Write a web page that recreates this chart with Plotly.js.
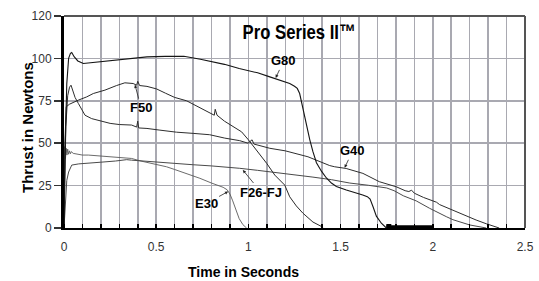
<!DOCTYPE html>
<html>
<head>
<meta charset="utf-8">
<script src="https://cdn.plot.ly/plotly-3.0.1.min.js"></script>
<style>html,body{margin:0;padding:0;background:#fff;}#chart{width:539px;height:281px;}</style>
</head>
<body>
<div id="chart"></div>
<script>
// ---- data (time in s, thrust in N) ----
const g80T = [0, 0.005, 0.015, 0.025, 0.035, 0.042, 0.055, 0.075, 0.105, 0.15, 0.25, 0.35, 0.45, 0.55, 0.65, 0.74, 0.79, 0.87, 0.95, 1.05, 1.116, 1.15, 1.224, 1.25, 1.265, 1.278, 1.29, 1.311, 1.333, 1.35, 1.369, 1.396, 1.423, 1.45, 1.477, 1.531, 1.58, 1.62, 1.645, 1.66, 1.676, 1.694, 1.721, 1.74, 1.748];
const g80V = [0, 40, 85, 100, 103, 103.5, 101, 98.5, 97, 97.5, 98.5, 100, 100.9, 101.2, 101.3, 99.5, 98.5, 96.5, 94, 91.5, 89.1, 88, 85.2, 83.6, 82.3, 79.3, 73, 64, 52, 45, 38.5, 33.5, 29.5, 26.5, 24.5, 22.4, 21, 19.5, 18.5, 17, 12.5, 7, 2.8, 0.4, 0];

const f50T = [0, 0.005, 0.012, 0.03, 0.078, 0.123, 0.159, 0.222, 0.285, 0.33, 0.375, 0.394, 0.40, 0.41, 0.45, 0.502, 0.55, 0.60, 0.665, 0.70, 0.75, 0.80, 0.815, 0.82, 0.83, 0.87, 0.917, 0.963, 1.0, 1.053, 1.1, 1.143, 1.197, 1.224, 1.26, 1.296, 1.35, 1.405];
const f50V = [0, 50, 71.5, 73, 75.4, 77.3, 79.3, 81.3, 84, 85.6, 85.2, 84.2, 86.5, 84, 83.5, 82, 79.5, 77, 75, 73, 70.5, 67.5, 66.5, 70, 66.5, 63, 60, 56.7, 52, 44.9, 38, 31.2, 25.3, 18.4, 13, 8.7, 3.5, 0.4];

const g40T = [0, 0.01, 0.02, 0.03, 0.038, 0.045, 0.06, 0.078, 0.105, 0.114, 0.15, 0.222, 0.25, 0.30, 0.367, 0.394, 0.40, 0.405, 0.45, 0.52, 0.61, 0.70, 0.79, 0.872, 0.953, 0.998, 1.02, 1.03, 1.116, 1.2, 1.323, 1.441, 1.468, 1.53, 1.621, 1.71, 1.802, 1.85, 1.87, 1.885, 1.9, 1.95, 2.02, 2.037, 2.127, 2.163, 2.235, 2.29, 2.36];
const g40V = [0, 60, 78, 83, 84.2, 82, 77, 73.4, 68, 66.5, 64.5, 62.6, 61.7, 61, 60.7, 59.5, 63, 59, 58.7, 57.7, 56.5, 55.8, 55, 53, 51.5, 50, 52, 49.5, 47, 45.5, 42, 36.8, 36.1, 35.1, 32.2, 27.3, 24.3, 22, 21.5, 22.3, 20.5, 18, 15.2, 13.8, 9.6, 8.3, 4.7, 2.5, 0];

const f26T = [0, 0.008, 0.015, 0.025, 0.042, 0.08, 0.132, 0.2, 0.28, 0.34, 0.367, 0.45, 0.52, 0.60, 0.70, 0.80, 0.872, 0.953, 1.05, 1.116, 1.143, 1.25, 1.35, 1.45, 1.55, 1.65, 1.75, 1.79, 1.84, 1.91, 1.983, 2.073, 2.109, 2.2, 2.29];
const f26V = [0, 20, 28, 33, 37.1, 37.8, 38.1, 38.8, 39.5, 40.3, 40, 39.3, 38.5, 38.1, 37.3, 36.6, 36.1, 35.2, 34, 33.2, 32.5, 31.2, 30, 28.5, 26.5, 25.2, 23.6, 22, 19, 16, 11.6, 6.7, 4.9, 1.8, 0];

const e30T = [0, 0.004, 0.008, 0.012, 0.016, 0.02, 0.025, 0.03, 0.035, 0.04, 0.05, 0.07, 0.1, 0.132, 0.195, 0.26, 0.30, 0.34, 0.367, 0.412, 0.48, 0.556, 0.60, 0.665, 0.737, 0.80, 0.863, 0.885, 0.9, 0.915, 0.93, 0.95, 0.97, 0.99];
const e30V = [0, 48, 41, 47, 43, 46.5, 43.5, 45.5, 43.8, 45, 44, 43.5, 43, 43, 42.4, 42, 41.5, 41, 41, 39.6, 38, 36.1, 34.5, 32.2, 29.3, 26.5, 24, 22.5, 20, 16, 11.5, 5.5, 2, 0];

// thick bar on the time axis after G80 burnout
const barT = [1.748, 2.0];
const barV = [0.6, 0.6];
const barCapT = [1.748, 1.775];
const barCapV = [0.9, 0.9];

const xTickVals = [0, 0.5, 1, 1.5, 2, 2.5];
const xTickText = ['0', '0.5', '1', '1.5', '2', '2.5'];
const yTickVals = [0, 25, 50, 75, 100, 125];
const yTickText = ['0', '25', '50', '75', '100', '120'];

// label annotations: [text, arrow tip t, arrow tip thrust, dx, dy]
const labels = [
  ['G80', 1.148, 88.5, 8, -17],
  ['F50', 0.385, 84.5, 6, 23],
  ['G40', 1.522, 35.5, 8, -17],
  ['F26-FJ', 0.97, 34.2, 18, 22],
  ['E30', 0.89, 21.5, -22, 12]
];

const lineTrace = (x, y, name, color, width) => ({
  x: x, y: y, name: name, type: 'scatter', mode: 'lines',
  line: {color: color, width: width}, hoverinfo: 'skip'
});

const data = [
  lineTrace(e30T, e30V, 'E30', '#5a5a5a', 0.9),
  lineTrace(f26T, f26V, 'F26-FJ', '#4a4a4a', 1),
  lineTrace(g40T, g40V, 'G40', '#2e2e2e', 1),
  lineTrace(f50T, f50V, 'F50', '#2a2a2a', 1),
  lineTrace(g80T, g80V, 'G80', '#151515', 1.1),
  lineTrace(barT, barV, 'bar', '#000', 3.5),
  lineTrace(barCapT, barCapV, 'barcap', '#000', 5)
];

const gridColor = '#a9a9b1';
const tickFont = {family: 'Liberation Sans, Arial, sans-serif', size: 12, color: '#333'};
const labFont = {family: 'Liberation Sans, Arial, sans-serif', size: 13, color: '#000'};

const annotations = labels.map(l => ({
  text: '<b>' + l[0] + '</b>', x: l[1], y: l[2], xref: 'x', yref: 'y',
  ax: l[3], ay: l[4], showarrow: true, arrowhead: 2, arrowsize: 0.8, arrowwidth: 0.8,
  arrowcolor: '#222', font: labFont, standoff: 0, startstandoff: 0
}));
annotations.push({
  text: '<b>Time in Seconds</b>', xref: 'paper', yref: 'paper', x: 0.39, y: -0.208,
  xanchor: 'center', yanchor: 'middle', showarrow: false,
  font: {family: 'Liberation Sans, Arial, sans-serif', size: 14, color: '#000'}
});
annotations.push({
  text: '<b>Thrust in Newtons</b>', xref: 'paper', yref: 'paper', x: -0.078, y: 0.472,
  xanchor: 'center', yanchor: 'middle', textangle: -90, showarrow: false,
  font: {family: 'Liberation Sans, Arial, sans-serif', size: 15, color: '#000'}
});

const layout = {
  width: 539, height: 281,
  margin: {l: 64, r: 14, t: 16, b: 53},
  showlegend: false,
  title: {
    text: '<b>Pro Series II™</b>', xref: 'paper', x: 0.51, xanchor: 'center',
    yref: 'container', y: 0.886, yanchor: 'middle',
    font: {family: 'Liberation Sans, Arial, sans-serif', size: 21, color: '#000'}
  },
  xaxis: {
    range: [0, 2.5], tickvals: xTickVals, ticktext: xTickText,
    showgrid: true, gridcolor: gridColor, gridwidth: 1.5,
    ticks: 'outside', ticklen: 7, tickcolor: 'rgba(0,0,0,0)', tickwidth: 1,
    minor: {dtick: 0.1, showgrid: true, gridcolor: gridColor, gridwidth: 1.5, ticks: 'inside', ticklen: 4, tickcolor: '#000', tickwidth: 1.5},
    showline: true, linecolor: '#000', linewidth: 2,
    zeroline: false, tickfont: tickFont
  },
  yaxis: {
    range: [0, 125], tickvals: yTickVals, ticktext: yTickText,
    showgrid: true, gridcolor: gridColor, gridwidth: 1.5,
    ticks: 'outside', ticklen: 7, tickcolor: '#333', tickwidth: 1.5,
    showline: true, linecolor: '#000', linewidth: 3,
    zeroline: false, tickfont: tickFont
  },
  shapes: [
    {type: 'line', xref: 'paper', yref: 'paper', x0: 0, x1: 1, y0: 1, y1: 1, line: {color: '#555', width: 2}},
    {type: 'line', xref: 'paper', yref: 'paper', x0: 1, x1: 1, y0: 0, y1: 1, line: {color: '#555', width: 2}}
  ],
  annotations: annotations
};

Plotly.newPlot('chart', data, layout, {displayModeBar: false, staticPlot: true}).then(gd => {
  // condensed look of the title: squeeze glyphs to the reference width
  const t = gd.querySelector('.gtitle');
  if (t) {
    t.setAttribute('textLength', '113');
    t.setAttribute('lengthAdjust', 'spacingAndGlyphs');
  }
});
</script>
</body>
</html>
